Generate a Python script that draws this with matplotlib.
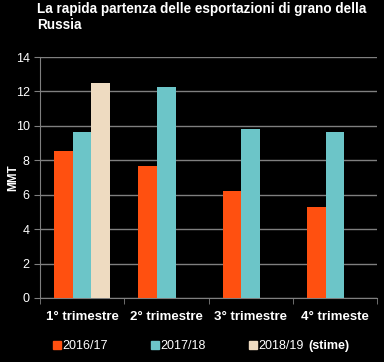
import numpy as np
import matplotlib.pyplot as plt
from matplotlib.patches import Patch

plt.rcParams['font.family'] = ['Liberation Sans', 'DejaVu Sans']

quarters = ["1° trimestre", "2° trimestre", "3° trimestre", "4° trimeste"]
y2016 = [8.55, 7.65, 6.2, 5.3]
y2017 = [9.65, 12.25, 9.8, 9.65]
y2018 = [12.5, np.nan, np.nan, np.nan]
series = ["2016/17", "2017/18", "2018/19"]
colors = ["#FF5010", "#6CC5C8", "#EEDBC1"]

fig = plt.figure(figsize=(3.84, 3.62), dpi=100, facecolor="black")
ax = fig.add_axes([40 / 384, 1 - 298 / 362, 337 / 384, 241 / 362])
ax.set_facecolor("black")

x = np.arange(len(quarters))
w = 0.222
for i, (vals, c) in enumerate(zip([y2016, y2017, y2018], colors)):
    ax.bar(x + (i - 1) * w, vals, width=w, color=c, zorder=3)

ax.set_xlim(-0.5, len(quarters) - 0.5)
ax.set_ylim(0, 14)
ax.set_yticks(np.arange(0, 15, 2))
ax.yaxis.grid(True, color="#7f7f7f", lw=1, zorder=0)
ax.set_xticks(x)
ax.set_xticklabels(quarters, color="white", fontsize=9.5, fontweight="bold")
ax.set_xticks(np.arange(-0.5, len(quarters), 1), minor=True)
ax.tick_params(axis="x", which="major", length=0, pad=9)
ax.tick_params(axis="x", which="minor", length=4, color="#7f7f7f")
ax.tick_params(axis="y", colors="#7f7f7f", labelcolor="white", labelsize=9, length=4)
for s in ["top", "right"]:
    ax.spines[s].set_visible(False)
for s in ["left", "bottom"]:
    ax.spines[s].set_color("#7f7f7f")
ax.set_ylabel("MMT", color="white", fontsize=8.5, fontweight="bold")
ax.yaxis.set_label_coords(-0.062, 0.5)

fig.text(37 / 384, 1 - 17 / 362, "La rapida partenza delle esportazioni di grano della\nRussia",
         color="white", fontsize=9.75, fontweight="bold", va="center", ha="left", linespacing=1.15)

handles = [Patch(color=c) for c in colors]
leg = fig.legend(handles, series, loc="center left", bbox_to_anchor=(42 / 384, 1 - 346 / 362), ncol=3,
                 frameon=False, handlelength=0.6, handleheight=0.6, handletextpad=0.1,
                 columnspacing=3.5, fontsize=9)
for t in leg.get_texts():
    t.set_color("white")
fig.text(308 / 384, 1 - 346 / 362, "(stime)", color="white", fontsize=9, fontweight="bold",
         va="center", ha="left")

fig.savefig("out.png", dpi=100, facecolor="black")
